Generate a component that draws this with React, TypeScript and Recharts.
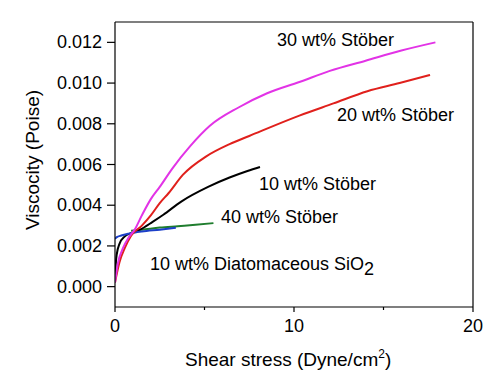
import { LineChart, Line, XAxis, YAxis, ReferenceLine } from "recharts";

// shear stress (Dyne/cm2) and viscosity (Poise)
const stober30X = [0, 0.15, 0.45, 0.75, 1.1, 1.5, 2.0, 2.5, 3.2, 4.2, 5.3, 6.9, 8.5, 10.3, 12.0, 14.0, 16.0, 17.9];
const stober30Y = [0.0002, 0.0011, 0.0019, 0.0024, 0.0028, 0.0035, 0.0043, 0.0049, 0.0058, 0.0069, 0.0079, 0.0088, 0.0095, 0.01005, 0.0106, 0.0111, 0.0116, 0.012];

const stober20X = [0, 0.25, 0.55, 0.9, 1.5, 2.0, 2.5, 3.0, 3.8, 5.1, 6.4, 7.5, 10.3, 12.2, 14.1, 15.9, 17.6];
const stober20Y = [0.0002, 0.0012, 0.0019, 0.0025, 0.003, 0.0035, 0.0041, 0.0046, 0.0055, 0.0064, 0.007, 0.0074, 0.0084, 0.009, 0.0096, 0.01, 0.0104];

const stober10X = [0, 0.05, 0.1, 0.25, 0.55, 0.9, 1.4, 2.1, 2.7, 3.7, 5.2, 6.4, 7.4, 8.1];
const stober10Y = [0.0003, 0.0012, 0.0016, 0.0021, 0.00247, 0.00263, 0.0028, 0.00318, 0.00353, 0.00418, 0.0049, 0.00536, 0.00568, 0.00588];

const stober40X = [0.9, 1.5, 2.5, 3.5, 4.5, 5.5];
const stober40Y = [0.00275, 0.0028, 0.0029, 0.00297, 0.00304, 0.00312];

const diatomX = [0, 0.1, 0.35, 0.75, 1.5, 2.5, 3.4];
const diatomY = [0.00235, 0.00243, 0.00251, 0.0026, 0.00271, 0.0028, 0.00289];

const xTicks = [0, 5, 10, 15, 20];
const yTicks = [0, 0.001, 0.002, 0.003, 0.004, 0.005, 0.006, 0.007, 0.008, 0.009, 0.01, 0.011, 0.012];

const toPoints = (xs: number[], ys: number[]) => xs.map((x, i) => ({ x, y: ys[i] }));

const font = "'Liberation Sans', Arial, sans-serif";

function YTick(props: any) {
  const { x, y, payload } = props;
  const major = Math.round(payload.value * 1000) % 2 === 0;
  return (
    <g>
      <line x1={x - (major ? 8 : 4)} x2={x} y1={y} y2={y} stroke="#000" strokeWidth={1.2} />
      {major && (
        <text x={x - 13} y={y} textAnchor="end" dominantBaseline="central" fontSize={18} fontFamily={font} fill="#000">
          {payload.value.toFixed(3)}
        </text>
      )}
    </g>
  );
}

function XTick(props: any) {
  const { x, y, payload } = props;
  const major = payload.value % 10 === 0;
  return (
    <g>
      <line x1={x} x2={x} y1={y} y2={y + (major ? 5 : 3)} stroke="#000" strokeWidth={1.2} />
      {major && (
        <text x={x} y={y + 19} textAnchor="middle" dominantBaseline="central" fontSize={18} fontFamily={font} fill="#000">
          {payload.value}
        </text>
      )}
    </g>
  );
}

const labelStyle = (left: number, top: number): any => ({
  position: "absolute",
  left,
  top,
  transform: "translateY(-50%)",
  fontFamily: font,
  fontSize: 18,
  lineHeight: 1,
  whiteSpace: "nowrap",
  color: "#000",
});

export default function App() {
  return (
    <div style={{ position: "absolute", left: 0, top: 0, width: 504, height: 391, background: "#fff" }}>
      <LineChart width={504} height={391} margin={{ top: 22, right: 31, left: 10, bottom: 54 }}>
        <XAxis
          type="number"
          dataKey="x"
          domain={[0, 20]}
          ticks={xTicks}
          allowDataOverflow
          height={30}
          tickSize={0}
          tickMargin={0}
          tickLine={false}
          tick={<XTick />}
          axisLine={{ stroke: "#000", strokeWidth: 1.2 }}
        />
        <YAxis
          type="number"
          domain={[-0.001, 0.013]}
          ticks={yTicks}
          allowDataOverflow
          width={105}
          tickSize={0}
          tickMargin={0}
          tickLine={false}
          tick={<YTick />}
          axisLine={{ stroke: "#000", strokeWidth: 1.2 }}
        />
        <ReferenceLine y={0.013} stroke="#000" strokeWidth={1.2} />
        <ReferenceLine x={20} stroke="#000" strokeWidth={1.2} />
        <Line data={toPoints(stober40X, stober40Y)} dataKey="y" type="monotone" stroke="#1f7d2e" strokeWidth={2} dot={false} isAnimationActive={false} />
        <Line data={toPoints(stober10X, stober10Y)} dataKey="y" type="monotone" stroke="#000" strokeWidth={2} dot={false} isAnimationActive={false} />
        <Line data={toPoints(diatomX, diatomY)} dataKey="y" type="monotone" stroke="#1c3fc9" strokeWidth={2} dot={false} isAnimationActive={false} />
        <Line data={toPoints(stober20X, stober20Y)} dataKey="y" type="monotone" stroke="#e0201c" strokeWidth={2} dot={false} isAnimationActive={false} />
        <Line data={toPoints(stober30X, stober30Y)} dataKey="y" type="monotone" stroke="#e233e6" strokeWidth={2} dot={false} isAnimationActive={false} />
      </LineChart>

      <div style={labelStyle(277, 40)}>30 wt% Stöber</div>
      <div style={labelStyle(337, 115)}>20 wt% Stöber</div>
      <div style={labelStyle(259, 184)}>10 wt% Stöber</div>
      <div style={labelStyle(221, 217)}>40 wt% Stöber</div>
      <div style={labelStyle(150, 266)}>
        10 wt% Diatomaceous SiO<sub style={{ fontSize: 18, verticalAlign: "-5px", lineHeight: 1 }}>2</sub>
      </div>

      <div
        style={{
          position: "absolute",
          left: 32,
          top: 160,
          transform: "translate(-50%, -50%) rotate(-90deg)",
          fontFamily: font,
          fontSize: 19,
          lineHeight: 1,
          whiteSpace: "nowrap",
        }}
      >
        Viscocity (Poise)
      </div>
      <div style={{ ...labelStyle(185, 358), fontSize: 19 }}>
        Shear stress (Dyne/cm<sup style={{ fontSize: 12, verticalAlign: "8px", lineHeight: 1 }}>2</sup>)
      </div>
    </div>
  );
}
